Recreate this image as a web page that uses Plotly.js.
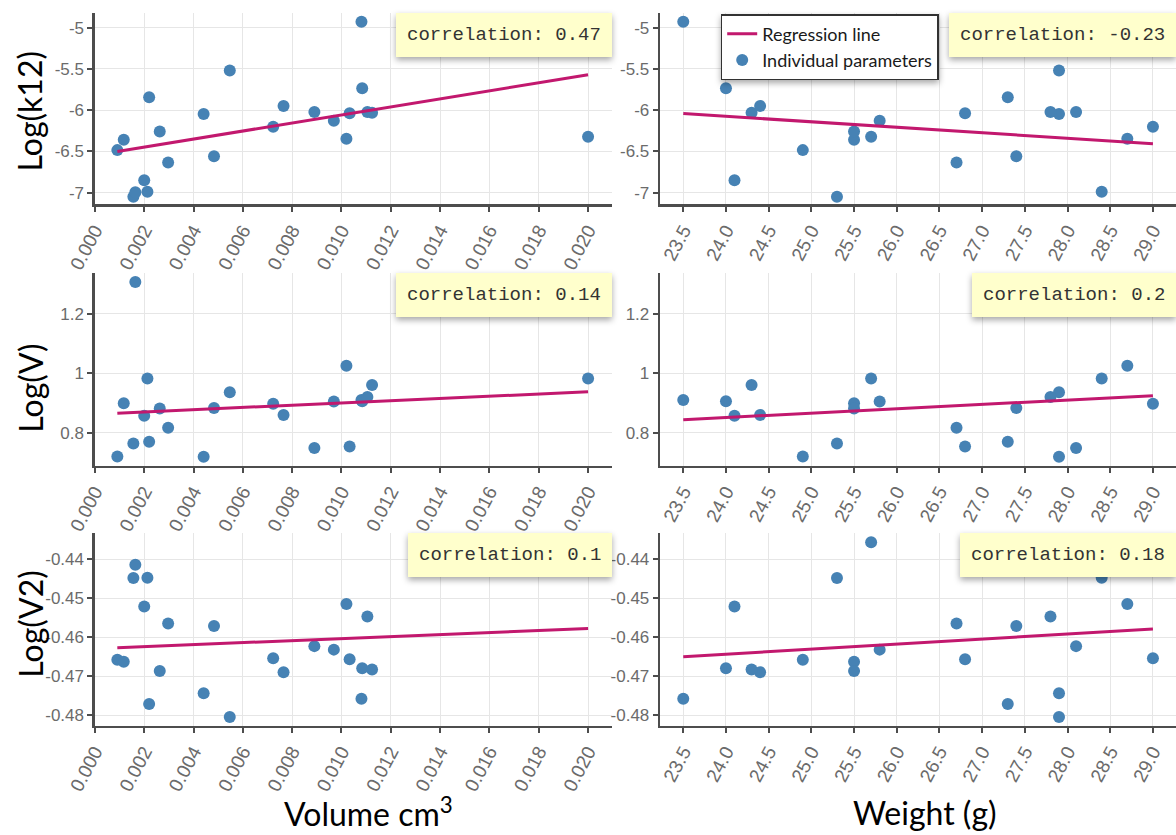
<!DOCTYPE html>
<html>
<head>
<meta charset="utf-8">
<script src="https://cdn.plot.ly/plotly-3.0.1.min.js"></script>
<style>
  html, body { margin: 0; padding: 0; background: #ffffff; }
  #chart { width: 1176px; height: 835px; }
</style>
</head>
<body>
<svg width="0" height="0" style="position:absolute">
  <defs>
    <filter id="softShadow" x="-20%" y="-40%" width="140%" height="200%">
      <feDropShadow dx="0" dy="3" stdDeviation="3" flood-color="#000000" flood-opacity="0.35"/>
    </filter>
  </defs>
</svg>
<div id="chart"></div>
<script>
// ---- data (one entry per individual) ----
const volume = [0.00091, 0.00117, 0.00156, 0.00164, 0.00200, 0.00213, 0.00220, 0.00263, 0.00297, 0.00441, 0.00483, 0.00547,
                0.00723, 0.00765, 0.00890, 0.00969, 0.01020, 0.01033, 0.01081, 0.01084, 0.01105, 0.01124, 0.02000];
const weight = [24.9, 25.5, 25.3, null, 24.1, 28.4, 27.3, 25.5, 26.7, 27.9, 27.4, 27.9,
                29.0, 24.4, 28.1, 25.8, 28.7, 26.8, 23.5, 24.0, 27.8, 24.3, 25.7];
const logK12 = [-6.484, -6.358, -7.050, -6.995, -6.850, -6.990, -5.843, -6.257, -6.634, -6.046, -6.557, -5.518,
                -6.200, -5.949, -6.022, -6.127, -6.346, -6.038, -4.927, -5.734, -6.022, -6.030, -6.322];
const logV   = [0.720, 0.899, 0.764, 1.308, 0.857, 0.983, 0.770, 0.882, 0.817, 0.719, 0.883, 0.936,
                0.898, 0.860, 0.749, 0.905, 1.026, 0.754, 0.910, 0.906, 0.920, 0.961, 0.983];
const logV2  = [-0.4658, -0.4663, -0.4448, -0.4414, -0.4521, -0.4447, -0.4772, -0.4687, -0.4565, -0.4744, -0.4571, -0.4805,
                -0.4654, -0.4690, -0.4623, -0.4632, -0.4515, -0.4657, -0.4758, -0.4680, -0.4547, -0.4683, -0.4356];

// regression line end points
const volLineX = [0.00091, 0.020];
const wtLineX  = [23.5, 29.0];
const k12VolLineY = [-6.500, -5.571];
const k12WtLineY  = [-6.041, -6.406];
const vVolLineY   = [0.866, 0.938];
const vWtLineY    = [0.844, 0.925];
const v2VolLineY  = [-0.4627, -0.4578];
const v2WtLineY   = [-0.4650, -0.4579];

// correlation labels (row-major: left, right)
const corrLabels = ['0.47', '-0.23', '0.14', '0.2', '0.1', '0.18'];

// tick labels
const k12TickVals = [-7, -6.5, -6, -5.5, -5];
const k12TickText = ['-7', '-6.5', '-6', '-5.5', '-5'];
const vTickVals   = [0.8, 1, 1.2];
const vTickText   = ['0.8', '1', '1.2'];
const v2TickVals  = [-0.48, -0.47, -0.46, -0.45, -0.44];
const v2TickText  = ['-0.48', '-0.47', '-0.46', '-0.45', '-0.44'];

const yTitles = ['Log(k12)', 'Log(V)', 'Log(V2)'];
const xTitles = ['Volume cm<sup>3</sup>', 'Weight (g)'];
const legendNames = ['Individual parameters', 'Regression line'];

// ---- style ----
const markerColor = '#4682B4';
const lineColor = '#C2186E';
const W = 1176, H = 835;

const rowsY = [logK12, logV, logV2];
const rowsLineVol = [k12VolLineY, vVolLineY, v2VolLineY];
const rowsLineWt = [k12WtLineY, vWtLineY, v2WtLineY];

const traces = [];
let k = 0;
for (let r = 0; r < 3; r++) {
  for (let c = 0; c < 2; c++) {
    k++;
    const xa = k === 1 ? 'x' : 'x' + k;
    const ya = k === 1 ? 'y' : 'y' + k;
    traces.push({
      type: 'scatter', mode: 'markers',
      x: c === 0 ? volume : weight, y: rowsY[r],
      xaxis: xa, yaxis: ya,
      name: legendNames[0], legendgroup: 'pts', showlegend: k === 1,
      marker: { color: markerColor, size: 12 },
      hoverinfo: 'x+y'
    });
    traces.push({
      type: 'scatter', mode: 'lines',
      x: c === 0 ? volLineX : wtLineX, y: c === 0 ? rowsLineVol[r] : rowsLineWt[r],
      xaxis: xa, yaxis: ya,
      name: legendNames[1], legendgroup: 'reg', showlegend: k === 1,
      line: { color: lineColor, width: 3 },
      hoverinfo: 'skip'
    });
  }
}

// panel geometry in pixels
const colX = [[94.9, 612], [660.2, 1176]];
const rowY = [[13.3, 204.3], [273.3, 465.7], [533.3, 725.7]];
const xRanges = [[0, 0.02097], [23.23, 29.27]];
const yRanges = [[-7.141, -4.825], [0.689, 1.337], [-0.48275, -0.4333]];
const yTicks = [[k12TickVals, k12TickText], [vTickVals, vTickText], [v2TickVals, v2TickText]];

const axisBase = {
  showline: true, linecolor: '#4d4d4d', linewidth: 2.5,
  ticks: 'outside', ticklen: 5, tickwidth: 2, tickcolor: '#4d4d4d',
  showgrid: true, gridcolor: '#e6e6e6', gridwidth: 1,
  zeroline: false, fixedrange: true,
  tickfont: { family: 'Liberation Sans, Arial, sans-serif', size: 17, color: '#6b6b6b' }
};

const layout = {
  width: W, height: H,
  margin: { l: 0, r: 0, t: 0, b: 0 },
  paper_bgcolor: '#ffffff', plot_bgcolor: '#ffffff',
  showlegend: true,
  legend: {
    x: 720.7 / W, y: 1 - 14 / H, xanchor: 'left', yanchor: 'top',
    bgcolor: '#ffffff', bordercolor: '#333333', borderwidth: 1.5,
    font: { family: 'Lato, sans-serif', size: 18, color: '#1a1a1a' },
    traceorder: 'reversed', tracegroupgap: 0
  },
  annotations: []
};

k = 0;
for (let r = 0; r < 3; r++) {
  for (let c = 0; c < 2; c++) {
    k++;
    const xk = k === 1 ? 'xaxis' : 'xaxis' + k;
    const yk = k === 1 ? 'yaxis' : 'yaxis' + k;
    const yAnchor = k === 1 ? 'y' : 'y' + k;
    const xAnchor = k === 1 ? 'x' : 'x' + k;
    const xAxis = Object.assign({}, axisBase, {
      domain: [colX[c][0] / W, colX[c][1] / W],
      range: xRanges[c], anchor: yAnchor,
      tickangle: -62,
      tickfont: { family: 'Liberation Sans, Arial, sans-serif', size: 19, color: '#6b6b6b' },
      tickmode: 'linear',
      tick0: c === 0 ? 0 : 23.5,
      dtick: c === 0 ? 0.002 : 0.5,
      tickformat: c === 0 ? '.3f' : '.1f'
    });
    const yAxis = Object.assign({}, axisBase, {
      domain: [1 - rowY[r][1] / H, 1 - rowY[r][0] / H],
      range: yRanges[r], anchor: xAnchor,
      tickmode: 'array', tickvals: yTicks[r][0], ticktext: yTicks[r][1]
    });
    layout[xk] = xAxis;
    layout[yk] = yAxis;
    layout.annotations.push({
      xref: xAnchor + ' domain', yref: yAnchor + ' domain',
      x: 1, y: 1, xanchor: 'right', yanchor: 'top',
      text: 'correlation: ' + corrLabels[k - 1],
      showarrow: false,
      bgcolor: '#FFFFCC', borderpad: 11, borderwidth: 0,
      font: { family: 'Liberation Mono, Courier New, monospace', size: 19, color: '#333333' }
    });
  }
}

// axis titles
const yTitleCenters = [111.7, 388, 624];
for (let r = 0; r < 3; r++) {
  layout.annotations.push({
    xref: 'paper', yref: 'paper',
    x: 29.7 / W, y: 1 - yTitleCenters[r] / H,
    xanchor: 'center', yanchor: 'middle', textangle: -90,
    text: yTitles[r], showarrow: false,
    font: { family: 'Lato, sans-serif', size: 32, color: '#000000' }
  });
}
const xTitleCenters = [368, 925];
for (let c = 0; c < 2; c++) {
  layout.annotations.push({
    xref: 'paper', yref: 'paper',
    x: xTitleCenters[c] / W, y: 1 - 812 / H,
    xanchor: 'center', yanchor: 'middle',
    text: xTitles[c], showarrow: false,
    font: { family: 'Lato, sans-serif', size: 32, color: '#000000' }
  });
}

Plotly.newPlot('chart', traces, layout, { displayModeBar: false, staticPlot: true }).then(function () {
  document.querySelectorAll('g.annotation').forEach(function (g) {
    const idx = parseInt(g.getAttribute('data-index'), 10);
    if (idx < corrLabels.length) {
      const bg = g.querySelector('rect.bg');
      if (bg) bg.setAttribute('filter', 'url(#softShadow)');
    }
  });
  const lg = document.querySelector('.legend rect.bg');
  if (lg) lg.setAttribute('filter', 'url(#softShadow)');
});
</script>
</body>
</html>
